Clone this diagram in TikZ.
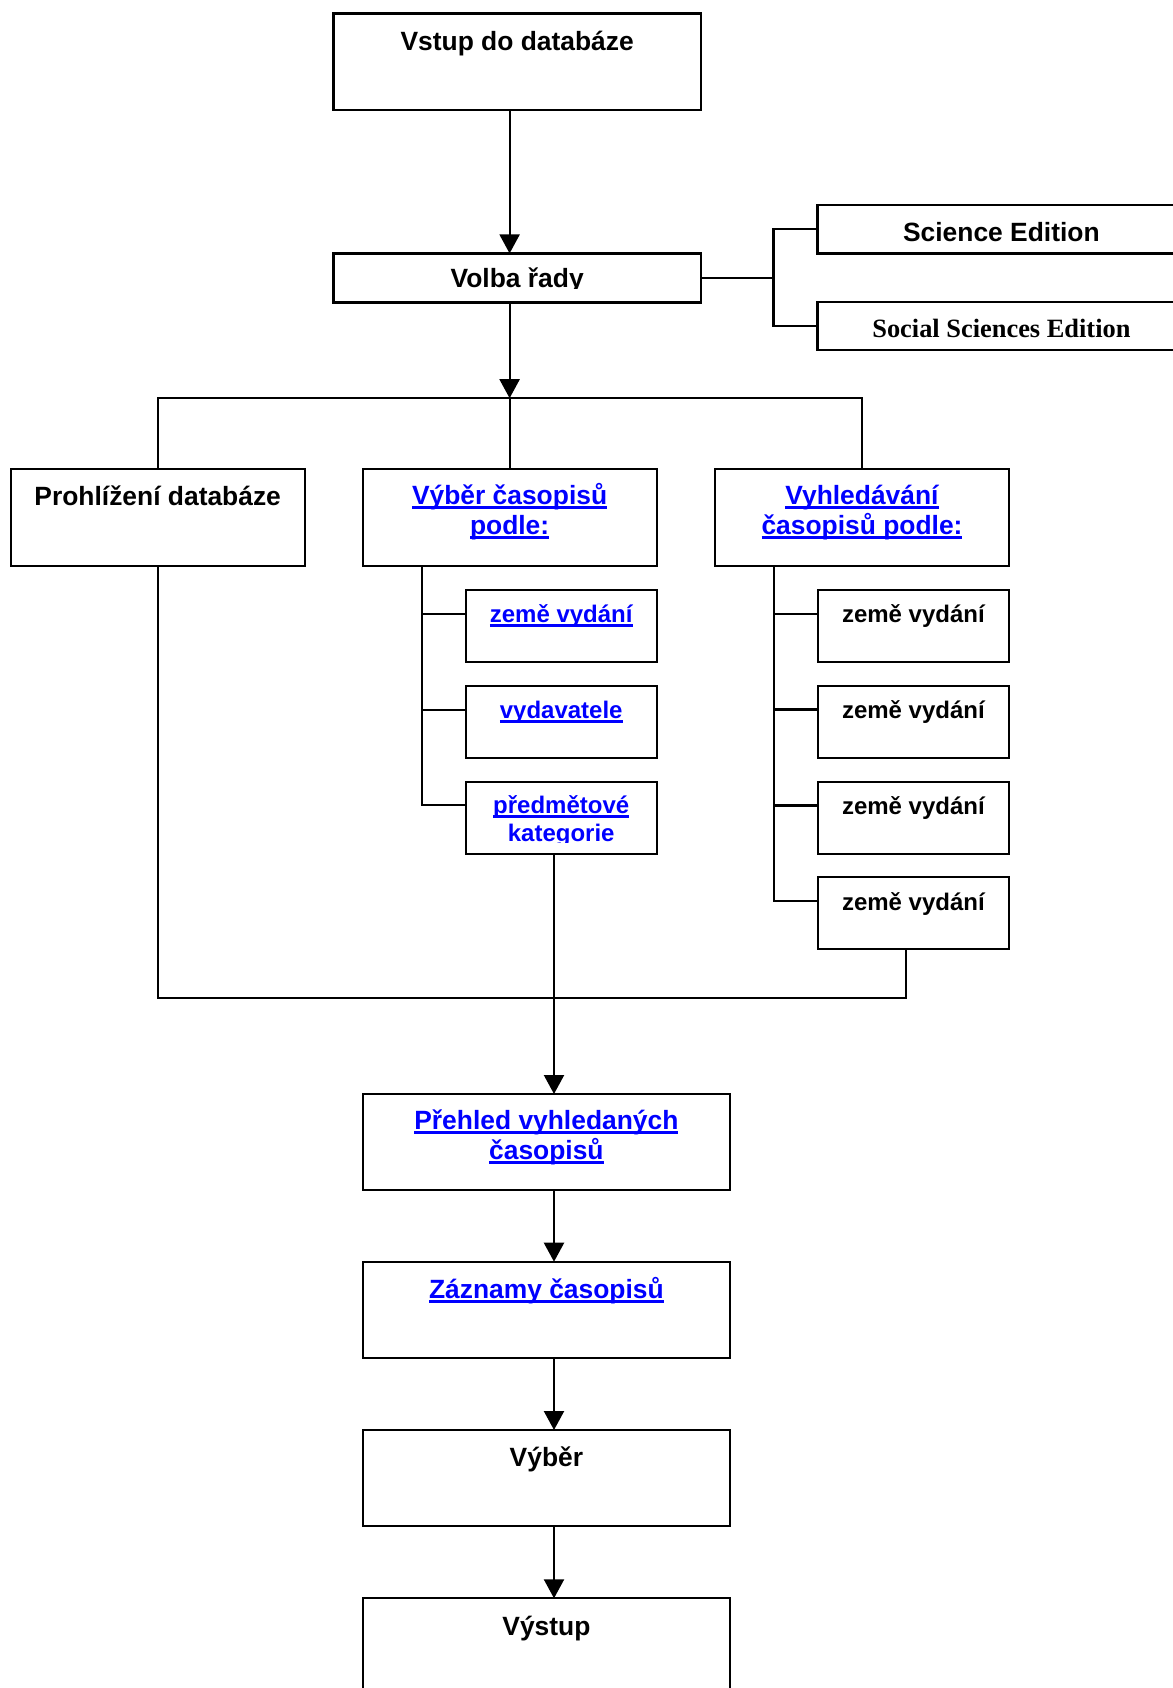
\documentclass[tikz,border=0pt]{standalone}
\usepackage{fontspec}
\setmainfont{Liberation Sans}
\newfontfamily\timesbf{Liberation Serif}
\usetikzlibrary{arrows.meta,positioning}
\definecolor{linkblue}{RGB}{0,0,255}
\newcommand\bigtxt{\fontsize{13.2}{15}\selectfont\bfseries}
\newcommand\smalltxt{\fontsize{12}{13.7}\selectfont\bfseries}
\newcommand\lnk[1]{\setbox0=\hbox{#1}\rlap{\rule[-2.1pt]{\wd0}{1.4pt}}\box0}
\tikzset{
	box/.style={draw, line width=1.1pt, inner sep=0pt, outer sep=0pt, align=center, font=\bigtxt},
	kid/.style={box, font=\smalltxt, minimum width=95.5pt, text height=16.3pt, text depth=19.7pt},
	link/.style={text=linkblue},
	wire/.style={line width=1.1pt},
	arr/.style={line width=1.1pt, -{Triangle[length=9.5pt,width=10pt]}},
}
\begin{document}
\begin{tikzpicture}[x=1pt, y=-1pt]
		\useasboundingbox (0,0) rectangle (586.5,844);
		\clip (0,0) rectangle (586.5,844);
		
		%entry and series
		\node[box, minimum width=183.8pt, text height=18.3pt, text depth=30pt] (vstup) at (258.6,30.85) {Vstup do databáze};
		\node[box, minimum width=183.8pt, text height=17pt, text depth=7.5pt] (volba) at (258.6,138.95) {};
		\begin{scope}
			\clip (volba.north west) rectangle ([yshift=-17.3pt]volba.north east);
			\node[font=\bigtxt, anchor=base, inner sep=0pt] (volbatxt) at ([yshift=-17pt]volba.north) {Volba řady};
		\end{scope}
		\node[box, minimum width=184pt, text height=18.3pt, text depth=5.9pt] (science) at (500.7,114.6) {Science Edition};
		\node[box, minimum width=184pt, text height=18pt, text depth=6.2pt, font=\bigtxt\timesbf] (social) at (500.7,162.9) {Social Sciences Edition};
		
		%three ways in (two-line text: last line on the baseline)
		\node[box, minimum width=147pt, text height=18.35pt, text depth=30pt] (prohl) at (78.85,258.8) {Prohlížení databáze};
		\node[box, link, minimum width=147pt, text height=32.85pt, text depth=15.5pt] (vyber) at (254.8,258.8) {\lnk{Výběr časopisů}\\\lnk{podle:}};
		\node[box, link, minimum width=147pt, text height=32.85pt, text depth=15.5pt] (vyhl) at (431,258.8) {\lnk{Vyhledávání}\\\lnk{časopisů podle:}};
		
		%selection options
		\node[kid, link] (kl1) at (280.6,313) {\lnk{země vydání}};
		\node[kid, link, text height=16.2pt, text depth=19.8pt] (kl2) at (280.6,361) {\lnk{vydavatele}};
		\node[kid] (kl3) at (280.6,408.85) {};
		\begin{scope}
			\clip (kl3.north west) rectangle ([yshift=-30.5pt]kl3.north east);
			\node[font=\smalltxt, link, align=center, anchor=north, inner sep=0pt, text height=29.5pt, text depth=0pt] (kl3txt) at (kl3.north) {\lnk{předmětové}\\\lnk{kategorie}};
		\end{scope}
		
		%search options
		\foreach \i/\y in {1/313, 2/360.85, 3/408.85, 4/456.65}{
			\node[kid, text height=16.4pt, text depth=19.6pt] (kr\i) at (456.7,\y) {země vydání};
		}
		
		%results
		\node[box, link, minimum width=183.65pt, text height=32.65pt, text depth=15.35pt] (prehled) at (273.2,571) {\lnk{Přehled vyhledaných}\\\lnk{časopisů}};
		\node[box, link, minimum width=183.65pt, text height=18.3pt, text depth=30pt] (zaznamy) at (273.2,655) {\lnk{Záznamy časopisů}};
		\node[box, minimum width=183.65pt, text height=18pt, text depth=30pt] (vybrano) at (273.2,739) {Výběr};
		\node[box, minimum width=183.65pt, text height=18.35pt, text depth=29.65pt] (vystup) at (273.2,823.15) {Výstup};
		
		%main axis
		\coordinate (split) at (254.8,199.1);
		\draw[arr] (vstup.south -| vyber.north) -- (volba.north -| vyber.north);
		\draw[arr] (volba.south -| split) -- (split);
		\draw[wire] (prohl.north) |- (split) -| (vyhl.north);
		\draw[wire] (split) -- (vyber.north);
		
		%edition bracket
		\coordinate (brk) at (386.7,138.95);
		\draw[wire] (volba.east) -- (brk);
		\draw[wire] (science.west) -| (brk) |- (social.west);
		
		%option trees
		\coordinate (ltree) at ([xshift=-44pt]vyber.south);
		\coordinate (rtree) at ([xshift=-44.15pt]vyhl.south);
		\foreach \k in {kl1, kl2, kl3}{
			\draw[wire] (ltree) |- ([yshift=6.2pt]\k.west);
		}
		\foreach \k in {kr1, kr2, kr3, kr4}{
			\draw[wire] (rtree) |- ([yshift=6.1pt]\k.west);
		}
		
		%merge and chain down
		\coordinate (mid) at ([xshift=-3.6pt]kl3.south);
		\coordinate (mrg) at (277,498.8);
		\draw[wire] (prohl.south) |- (mrg) -| ([xshift=-3.7pt]kr4.south);
		\draw[arr] (mid) -- (mid |- prehled.north);
		\draw[arr] (mid |- prehled.south) -- (mid |- zaznamy.north);
		\draw[arr] (mid |- zaznamy.south) -- (mid |- vybrano.north);
		\draw[arr] (mid |- vybrano.south) -- (mid |- vystup.north);
\end{tikzpicture}
\end{document}
